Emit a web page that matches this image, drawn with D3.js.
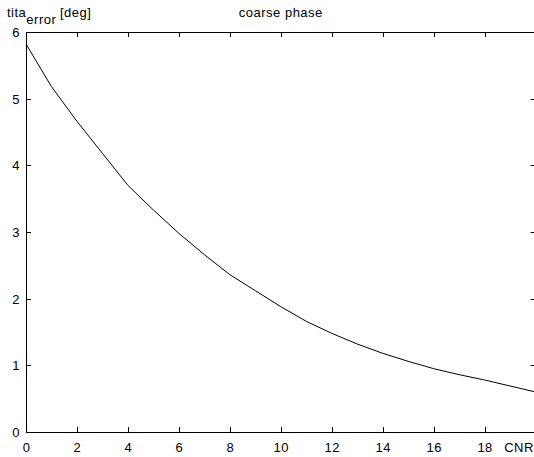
<!DOCTYPE html>
<html>
<head>
<meta charset="utf-8">
<script src="https://cdn.jsdelivr.net/npm/d3@7"></script>
<style>
  body { margin: 0; background: #fff; }
  svg text { font-family: "Liberation Sans", Arial, sans-serif; font-size: 13px; letter-spacing: 0.5px; fill: #000; }
</style>
</head>
<body>
<svg id="chart" width="534" height="457"></svg>
<script>
// CNR values (x) and the coarse phase error in degrees (y)
const cnr = [0, 1, 2, 3, 4, 5, 6, 7, 8, 9, 10, 11, 12, 13, 14, 15, 16, 17, 18, 19, 20];
const titaError = [5.82, 5.18, 4.66, 4.18, 3.70, 3.33, 2.98, 2.66, 2.36, 2.12, 1.88, 1.66, 1.48, 1.32, 1.18, 1.06, 0.95, 0.86, 0.78, 0.69, 0.60];
const xTicks = [0, 2, 4, 6, 8, 10, 12, 14, 16, 18];
const yTicks = [0, 1, 2, 3, 4, 5, 6];

let svg = d3.select("#chart");

// axes box, right edge sits just outside the window like in the original
let boxLeft = 26, boxTop = 32, boxRight = 535.6, boxBottom = 432;

let x = d3.scaleLinear().domain([0, 20]).range([boxLeft, boxRight]);
let y = d3.scaleLinear().domain([0, 6]).range([boxBottom, boxTop]);

// the curve
let line = d3.line()
    .x((d, i) => x(cnr[i]))
    .y(d => y(d));

svg.append("path")
    .datum(titaError)
    .attr("d", line)
    .attr("fill", "none")
    .attr("stroke", "#000")
    .attr("stroke-width", 1);

// box
svg.append("rect")
    .attr("x", boxLeft + 0.5)
    .attr("y", boxTop + 0.5)
    .attr("width", boxRight - boxLeft)
    .attr("height", boxBottom - boxTop)
    .attr("fill", "none")
    .attr("stroke", "#000");

// ticks pointing inward on all four sides
let tickLen = 5;
let g = svg.append("g").attr("stroke", "#000");

xTicks.forEach(t => {
    let px = Math.round(x(t)) + 0.5;
    g.append("line").attr("x1", px).attr("x2", px).attr("y1", boxBottom).attr("y2", boxBottom - tickLen);
    g.append("line").attr("x1", px).attr("x2", px).attr("y1", boxTop).attr("y2", boxTop + tickLen);
});
yTicks.forEach(t => {
    let py = Math.round(y(t)) + 0.5;
    g.append("line").attr("x1", boxLeft).attr("x2", boxLeft + tickLen).attr("y1", py).attr("y2", py);
    g.append("line").attr("x1", boxRight - tickLen).attr("x2", boxRight).attr("y1", py).attr("y2", py);
});

// tick labels
svg.selectAll(".xlab")
    .data(xTicks)
    .enter()
    .append("text")
    .attr("x", d => x(d) + 0.5)
    .attr("y", 452)
    .attr("text-anchor", "middle")
    .text(d => d);

svg.selectAll(".ylab")
    .data(yTicks)
    .enter()
    .append("text")
    .attr("x", 20)
    .attr("y", d => y(d) + 5)
    .attr("text-anchor", "end")
    .text(d => d);

// x axis name in place of the last tick label
svg.append("text")
    .attr("x", 519)
    .attr("y", 452)
    .attr("text-anchor", "middle")
    .text("CNR");

// title
svg.append("text")
    .attr("x", (boxLeft + boxRight) / 2)
    .attr("y", 17)
    .attr("text-anchor", "middle")
    .text("coarse phase");

// y axis name with subscript
let ylab = svg.append("text").attr("x", 7).attr("y", 17);
ylab.append("tspan").text("tita");
ylab.append("tspan").attr("dy", 7).text("error");
ylab.append("tspan").attr("x", 60).attr("dy", -7).text("[deg]");
</script>
</body>
</html>
